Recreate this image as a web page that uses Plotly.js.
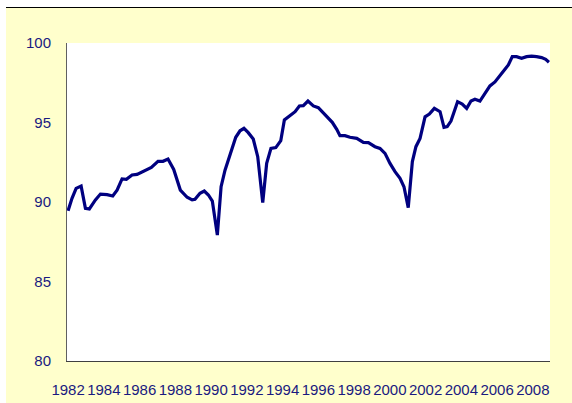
<!DOCTYPE html>
<html>
<head>
<meta charset="utf-8">
<script src="https://cdn.plot.ly/plotly-3.0.1.min.js"></script>
<style>
  html, body { margin: 0; padding: 0; background: #ffffff; width: 572px; height: 403px; overflow: hidden; }
  #frame { position: absolute; left: 6px; top: 7px; width: 566px; height: 395px; border-top: 1px solid #000000; background: #FFFFCC; }
  #chart { width: 566px; height: 395px; }
</style>
</head>
<body>
<div id="frame"><div id="chart"></div></div>
<script>
const years = [
  1982.00, 1982.22, 1982.45, 1982.73, 1982.97, 1983.19, 1983.53, 1983.81,
  1984.18, 1984.50, 1984.74, 1985.02, 1985.26, 1985.58, 1985.86, 1986.23,
  1986.66, 1987.03, 1987.31, 1987.59, 1987.91, 1988.28, 1988.66, 1988.94,
  1989.10, 1989.38, 1989.62, 1989.85, 1990.07, 1990.35, 1990.56, 1990.78,
  1991.06, 1991.38, 1991.62, 1991.84, 1992.08, 1992.36, 1992.61, 1992.89,
  1993.11, 1993.35, 1993.62, 1993.90, 1994.10, 1994.38, 1994.70, 1994.94,
  1995.16, 1995.42, 1995.72, 1996.00, 1996.28, 1996.56, 1996.78, 1997.03,
  1997.21, 1997.49, 1997.77, 1998.15, 1998.52, 1998.80, 1999.17, 1999.45,
  1999.73, 2000.01, 2000.29, 2000.57, 2000.79, 2001.03, 2001.26, 2001.46,
  2001.69, 2001.97, 2002.21, 2002.49, 2002.81, 2003.03, 2003.21, 2003.42,
  2003.79, 2004.05, 2004.30, 2004.54, 2004.76, 2005.04, 2005.32, 2005.60,
  2005.88, 2006.16, 2006.44, 2006.63, 2006.85, 2007.09, 2007.37, 2007.65,
  2007.93, 2008.21, 2008.49, 2008.72, 2008.90
];
const values = [
  89.45, 90.23, 90.86, 91.00, 89.60, 89.56, 90.13, 90.50,
  90.46, 90.38, 90.75, 91.45, 91.43, 91.70, 91.74, 91.93,
  92.18, 92.56, 92.56, 92.70, 92.05, 90.75, 90.30, 90.13,
  90.17, 90.55, 90.69, 90.44, 90.06, 87.92, 90.96, 92.00,
  93.00, 94.07, 94.48, 94.63, 94.36, 93.96, 92.85, 89.96,
  92.43, 93.37, 93.42, 93.86, 95.16, 95.41, 95.68, 96.04,
  96.06, 96.35, 96.04, 95.93, 95.62, 95.26, 95.01, 94.57,
  94.17, 94.17, 94.07, 94.00, 93.75, 93.73, 93.48, 93.37,
  93.06, 92.43, 91.91, 91.49, 90.96, 89.64, 92.54, 93.48,
  94.00, 95.36, 95.53, 95.89, 95.68, 94.70, 94.74, 95.09,
  96.31, 96.16, 95.89, 96.35, 96.46, 96.35, 96.87, 97.30,
  97.55, 97.99, 98.35, 98.62, 99.14, 99.14, 99.04, 99.14,
  99.18, 99.14, 99.08, 98.97, 98.79
];
const xTickVals = [1982, 1984, 1986, 1988, 1990, 1992, 1994, 1996, 1998, 2000, 2002, 2004, 2006, 2008];
const xTickText = ["1982", "1984", "1986", "1988", "1990", "1992", "1994", "1996", "1998", "2000", "2002", "2004", "2006", "2008"];
const yTickVals = [80, 85, 90, 95, 100];
const yTickText = ["80", "85", "90", "95", "100"];

const tickFont = { family: '"Liberation Sans", Arial, sans-serif', size: 15, color: '#1a1a80' };

const trace = {
  x: years,
  y: values,
  type: 'scatter',
  mode: 'lines',
  line: { color: '#000080', width: 3.2 },
  hoverinfo: 'skip'
};

const layout = {
  width: 566,
  height: 395,
  margin: { l: 61, r: 22, t: 35, b: 42, pad: 0 },
  paper_bgcolor: '#FFFFCC',
  plot_bgcolor: '#FFFFFF',
  showlegend: false,
  xaxis: {
    range: [1981.94, 2008.96],
    tickmode: 'array',
    tickvals: xTickVals,
    ticktext: xTickText,
    tickangle: 0,
    showgrid: false,
    zeroline: false,
    showline: true,
    linecolor: '#404040',
    linewidth: 1,
    ticks: '',
    ticklabelstandoff: 15,
    tickfont: tickFont,
    fixedrange: true
  },
  yaxis: {
    range: [80, 100],
    tickmode: 'array',
    tickvals: yTickVals,
    ticktext: yTickText,
    showgrid: false,
    zeroline: false,
    showline: true,
    linecolor: '#606060',
    linewidth: 1,
    ticks: '',
    ticklabelstandoff: 12,
    tickfont: tickFont,
    fixedrange: true
  }
};

Plotly.newPlot('chart', [trace], layout, { displayModeBar: false, staticPlot: true });
</script>
</body>
</html>
